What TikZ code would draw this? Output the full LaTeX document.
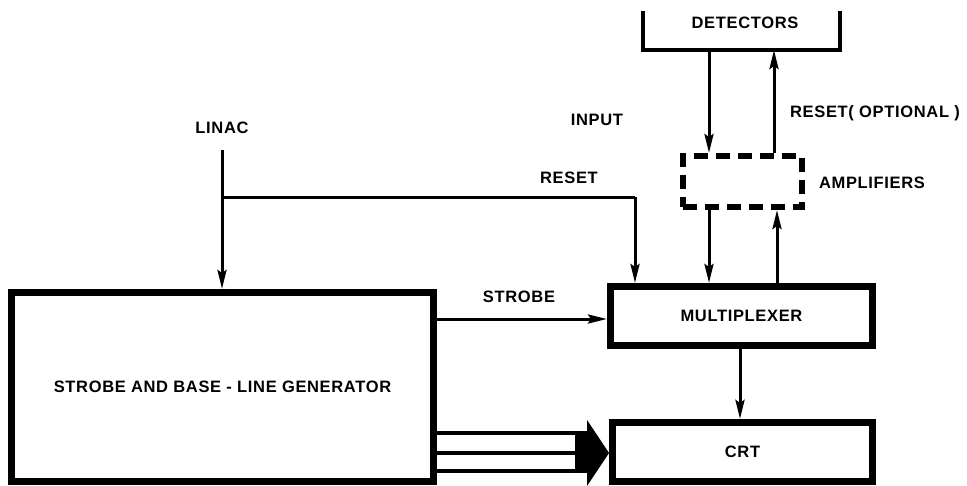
\documentclass[tikz,border=0pt]{standalone}
\usepackage{fontspec}
\setmainfont{Liberation Sans}[LetterSpace=4]
\usetikzlibrary{arrows.meta}
\tikzset{
  blk/.style={draw, line width=7pt, rectangle, inner sep=0pt},
  lbl/.style={font=\bfseries\fontsize{16.5}{19}\selectfont, inner sep=1pt},
  conn/.style={line width=3pt, -{Stealth[length=19pt,width=9pt,inset=3pt]}},
  plain/.style={line width=3pt},
  ampbox/.style={draw, line width=6pt, dash pattern=on 14pt off 8pt, rectangle, inner sep=0pt},
  bracket/.style={line width=4pt},
  fat/.style={line width=4pt}
}
\begin{document}
\begin{tikzpicture}[x=1pt,y=-1pt]
\useasboundingbox (0,0) rectangle (967,485);
% boxes
\node[blk, lbl, minimum width=422pt, minimum height=189pt] (gen) at (222.5,387) {STROBE AND BASE - LINE GENERATOR};
\node[blk, lbl, minimum width=262pt, minimum height=59pt] (mux) at (741.5,316) {MULTIPLEXER};
\node[blk, lbl, minimum width=260pt, minimum height=59.5pt] (crt) at (742.5,452.2) {CRT};
\node[ampbox, minimum width=119pt, minimum height=51pt] (amp) at (742.5,181.5) {};
% detectors bracket
\coordinate (dTL) at (643,11);
\coordinate (dBL) at (643,50);
\coordinate (dBR) at (840,50);
\coordinate (dTR) at (840,11);
\draw[bracket] (dTL) -- (dBL) -- (dBR) -- (dTR);
\node[lbl] (det) at (745,23) {DETECTORS};
% labels
\node[lbl] (linac) at (222,128) {LINAC};
\node[lbl] (input) at (597,120) {INPUT};
\node[lbl] (rst) at (569,178) {RESET};
\node[lbl] (rsto) at (875,113) {RESET( OPTIONAL )};
\node[lbl] (ampl) at (872,183) {AMPLIFIERS};
\node[lbl] (strb) at (519,297) {STROBE};
% coordinates
\coordinate (linTop) at (222,150);
\coordinate (branch) at (222,197);
\coordinate (rcorner) at (635,197);
\coordinate (inTop) at (709,50);
\coordinate (roTop) at (774,50);
% connectors
\draw[conn] (linTop) -- (gen.north -| linTop);
\draw[plain] (branch) -- (rcorner);
\draw[conn] (rcorner) -- (mux.north -| rcorner);
\draw[conn] (inTop) -- (amp.north -| inTop);
\draw[conn] (amp.north -| roTop) -- (roTop);
\coordinate (a1) at (709,0);
\coordinate (a2) at (777,0);
\coordinate (a3) at (740,0);
\draw[conn] (amp.south -| a1) -- (mux.north -| a1);
\draw[conn] (mux.north -| a2) -- (amp.south -| a2);
\draw[conn] (mux.south -| a3) -- (crt.north -| a3);
\coordinate (sy) at (0,319);
\draw[conn] (gen.east |- sy) -- (mux.west |- sy);
% triple arrow
\coordinate (l1) at (577,433);
\coordinate (l2) at (577,453);
\coordinate (l3) at (577,471);
\draw[fat] (gen.east |- l1) -- (l1);
\draw[fat] (gen.east |- l2) -- (l2);
\draw[fat] (gen.east |- l3) -- (l3);
\coordinate (hA) at (575,431);
\coordinate (hB) at (589,473);
\fill (hA) rectangle (hB);
\coordinate (tA) at (587,420);
\coordinate (tB) at (587,486);
\fill (tA) -- (crt.west |- l2) -- (tB) -- cycle;
\end{tikzpicture}
\end{document}
